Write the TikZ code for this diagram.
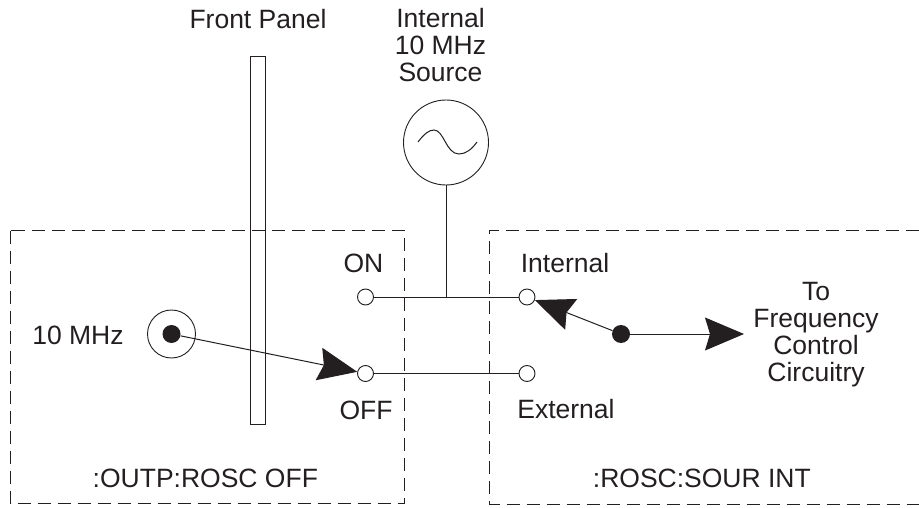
\documentclass[tikz,border=0pt]{standalone}
\usepackage{fontspec}
\setmainfont{Liberation Sans}
\usetikzlibrary{arrows.meta}
\definecolor{ink}{HTML}{231F20}
\tikzset{
  x=1pt,y=-1pt,
  lbl/.style={font=\fontsize{26.5}{27}\selectfont,text=ink,inner sep=0pt,align=center},
  wire/.style={draw=ink,line width=1pt},
  zone/.style={draw=ink,line width=1pt,dash pattern=on 13pt off 7pt},
  term/.style={circle,draw=ink,fill=white,line width=0.9pt,minimum size=16pt,inner sep=0pt},
  dot/.style={circle,fill=ink,minimum size=18pt,inner sep=0pt},
  head/.style={-{Stealth[length=39pt,width=33pt,inset=5pt,fill=ink]}},
}
\begin{document}
\begin{tikzpicture}
\useasboundingbox (0,0) rectangle (919,508);
\draw[zone] (10.5,230.5) rectangle (404.5,503.5);
\draw[zone] (919,230.5) -- (489.5,230.5) -- (489.5,504) -- (919,504);
\node[draw=ink,line width=0.9pt,minimum width=15.5pt,minimum height=368pt,inner sep=0pt] (panel) at (257.8,240) {};
\node[lbl] (fp) at (258,19) {Front Panel};
\node[lbl] (src) at (440.5,45.5) {Internal\\10 MHz\\Source};
\node[circle,draw=ink,line width=0.9pt,minimum size=85pt,inner sep=0pt] (osc) at (446,142.5) {};
\draw[wire] (418,142) .. controls (424,134) and (429,130) .. (434,130) .. controls (444,130) and (446,154) .. (459,154) .. controls (466,154) and (472,149) .. (477,142);
\node[term] (on) at (365.5,297) {};
\node[term] (int) at (527,297) {};
\node[term] (off) at (365.5,373.5) {};
\node[term] (ext) at (527,373.5) {};
\coordinate (j) at (446,297);
\draw[wire] (on) -- (int);
\draw[wire] (off) -- (ext);
\draw[wire] (osc) -- (j);
\node[circle,draw=ink,line width=0.9pt,minimum size=48pt,inner sep=0pt] (bnc) at (171.5,334) {};
\node[dot] (bd) at (171.5,334) {};
\node[dot] (sw) at (621,334) {};
\coordinate (out) at (744,334);
\draw[wire,head] (bd) -- (off);
\draw[wire,head] (sw) -- (int);
\draw[wire,head] (sw) -- (out);
\node[lbl] (lon) at (363.5,263) {ON};
\node[lbl] (loff) at (366,410) {OFF};
\node[lbl] (lint) at (565,263) {Internal};
\node[lbl] (lext) at (566,409.5) {External};
\node[lbl] (l10) at (78,335) {10 MHz};
\node[lbl] (lto) at (816,334.5) {To\\Frequency\\Control\\Circuitry};
\node[lbl,anchor=west] (lo) at (92.5,478) {:OUTP:ROSC OFF};
\node[lbl,anchor=east] (lr) at (811,478.5) {:ROSC:SOUR INT};
\end{tikzpicture}
\end{document}
